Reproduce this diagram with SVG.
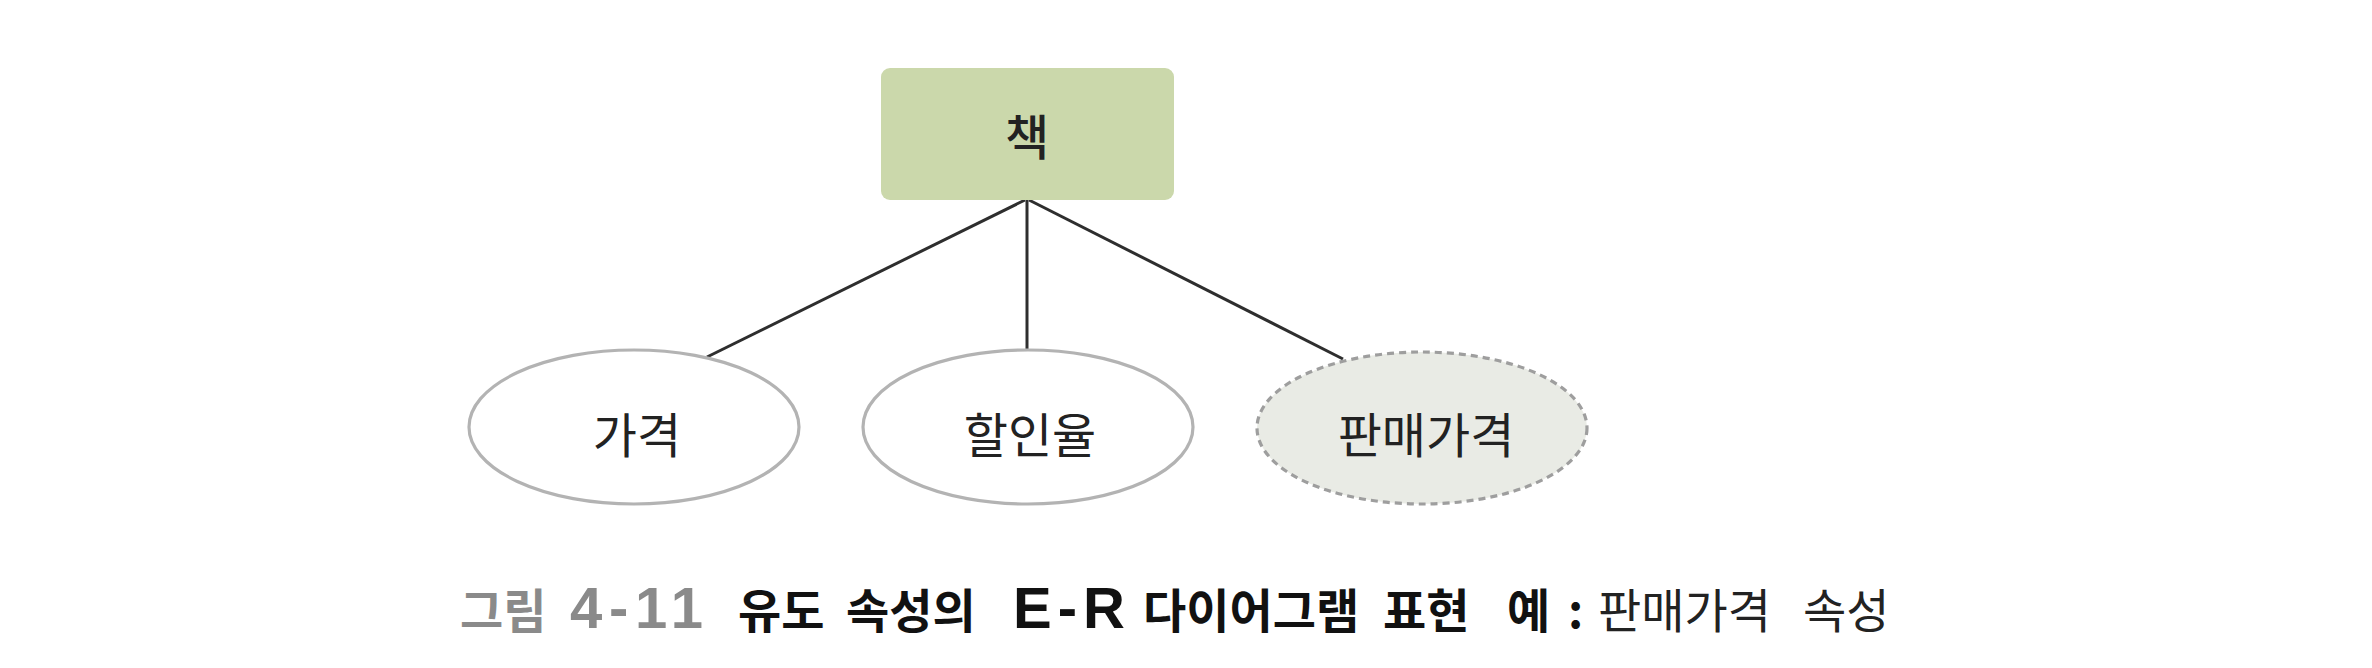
<svg xmlns="http://www.w3.org/2000/svg" width="2372" height="668" viewBox="0 0 2372 668">
<style>
.lbl{font-family:"Noto Sans CJK KR","Noto Sans",sans-serif;font-size:48px;fill:#222;text-anchor:middle;dominant-baseline:central}
.cap{font-family:"Noto Sans CJK KR","Noto Sans",sans-serif;font-size:47px}
.lat{font-family:"Liberation Sans","Noto Sans CJK KR",sans-serif;font-size:58px;font-weight:bold}
.attr{fill:#ffffff;stroke:#b3b3b3;stroke-width:3.2}
.derived{fill:#e9ebe5;stroke:#9e9e9e;stroke-width:3.2;stroke-dasharray:7 5}
.conn{stroke:#2e2e2e;stroke-width:3;fill:none}
</style>
<rect width="2372" height="668" fill="#ffffff"/>
<g id="connectors">
<line class="conn" x1="1025" y1="200" x2="707" y2="357"/>
<line class="conn" x1="1027" y1="200" x2="1027" y2="350"/>
<line class="conn" x1="1029" y1="200" x2="1343" y2="359"/>
</g>
<g id="node-book">
<rect x="881" y="68" width="293" height="132" rx="9" fill="#cbd8ab"/>
<text class="lbl" x="1027" y="134" font-weight="500">책</text>
</g>
<g id="node-price">
<ellipse class="attr" cx="634" cy="427" rx="165" ry="77"/>
<text class="lbl" x="637" y="432">가격</text>
</g>
<g id="node-discount">
<ellipse class="attr" cx="1028" cy="427" rx="165" ry="77"/>
<text class="lbl" x="1030" y="432">할인율</text>
</g>
<g id="node-saleprice">
<ellipse class="derived" cx="1422" cy="428" rx="165" ry="76"/>
<text class="lbl" x="1426" y="432">판매가격</text>
</g>
<g id="caption">
<text class="cap" y="628">
<tspan x="460" fill="#8a8a8a" font-weight="bold">그림</tspan>
<tspan x="570" fill="#8a8a8a" class="lat" textLength="133" lengthAdjust="spacing">4-11</tspan>
<tspan x="738" fill="#111" font-weight="bold">유도</tspan>
<tspan x="846" fill="#111" font-weight="bold">속성의</tspan>
<tspan x="1013" fill="#111" class="lat" textLength="112" lengthAdjust="spacing">E-R</tspan>
<tspan x="1143" fill="#111" font-weight="bold">다이어그램</tspan>
<tspan x="1383" fill="#111" font-weight="bold">표현</tspan>
<tspan x="1507" fill="#111" font-weight="bold">예</tspan>
<tspan x="1568" fill="#111" font-weight="bold">:</tspan>
<tspan x="1598" fill="#222">판매가격</tspan>
<tspan x="1803" fill="#222">속성</tspan>
</text>
</g>
</svg>
